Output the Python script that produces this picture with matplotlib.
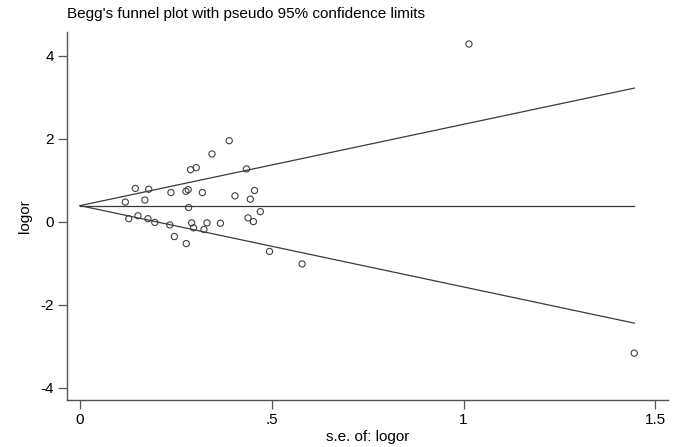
import numpy as np
import matplotlib
matplotlib.use("Agg")
import matplotlib.pyplot as plt

plt.rcParams['font.family'] = ['Liberation Sans', 'DejaVu Sans']
plt.rcParams['axes.unicode_minus'] = False

# standard error and log odds ratio for each study
se = [0.389, 0.344, 0.288, 0.303, 0.434, 0.144, 0.179, 0.237, 0.276, 0.282,
      0.319, 0.455, 0.118, 0.169, 0.404, 0.444, 0.283, 0.470, 0.127, 0.151,
      0.177, 0.195, 0.234, 0.291, 0.296, 0.331, 0.323, 0.366, 0.438, 0.452,
      0.246, 0.277, 0.494, 0.579, 1.014, 1.445]
logor = [1.95, 1.63, 1.25, 1.30, 1.27, 0.80, 0.78, 0.70, 0.73, 0.77,
         0.70, 0.75, 0.47, 0.52, 0.62, 0.54, 0.34, 0.24, 0.07, 0.14,
         0.07, -0.02, -0.08, -0.03, -0.15, -0.03, -0.19, -0.04, 0.09, 0.00,
         -0.36, -0.53, -0.72, -1.02, 4.28, -3.17]
pooled = 0.385

xticks = [0, 0.5, 1, 1.5]
xticklabels = ['0', '.5', '1', '1.5']
yticks = [-4, -2, 0, 2, 4]

fig = plt.figure(figsize=(6.75, 4.47), dpi=100)
ax = fig.add_axes([67 / 675, 1 - 400 / 447, 601 / 675, 368 / 447])

smax = max(se)
sx = np.array([0, smax])
line_kw = dict(color='#3a3a3a', lw=0.9)
ax.plot(sx, pooled + 1.96 * sx, **line_kw)
ax.plot(sx, pooled - 1.96 * sx, **line_kw)
ax.plot(sx, [pooled, pooled], **line_kw)

ax.scatter(se, logor, s=20, facecolors='none', edgecolors='#404040',
           linewidths=0.8, zorder=3)

ax.set_xlim(-0.034, 1.533)
ax.set_ylim(-4.3, 4.57)
ax.set_xticks(xticks)
ax.set_xticklabels(xticklabels)
ax.set_yticks(yticks)

for s in ['top', 'right']:
    ax.spines[s].set_visible(False)
for s in ['left', 'bottom']:
    ax.spines[s].set_color('#555555')
    ax.spines[s].set_linewidth(1.0)
ax.tick_params(direction='out', length=6.5, width=0.9, color='#555555',
               labelsize=11, pad=3)

ax.set_xlabel('s.e. of: logor', fontsize=11, labelpad=2)
ax.set_ylabel('logor', fontsize=11, labelpad=6)

fig.text(67 / 675, 1 - 14 / 447, "Begg's funnel plot with pseudo 95% confidence limits",
         fontsize=11, ha='left', va='center')

fig.savefig('out.png', dpi=100)
